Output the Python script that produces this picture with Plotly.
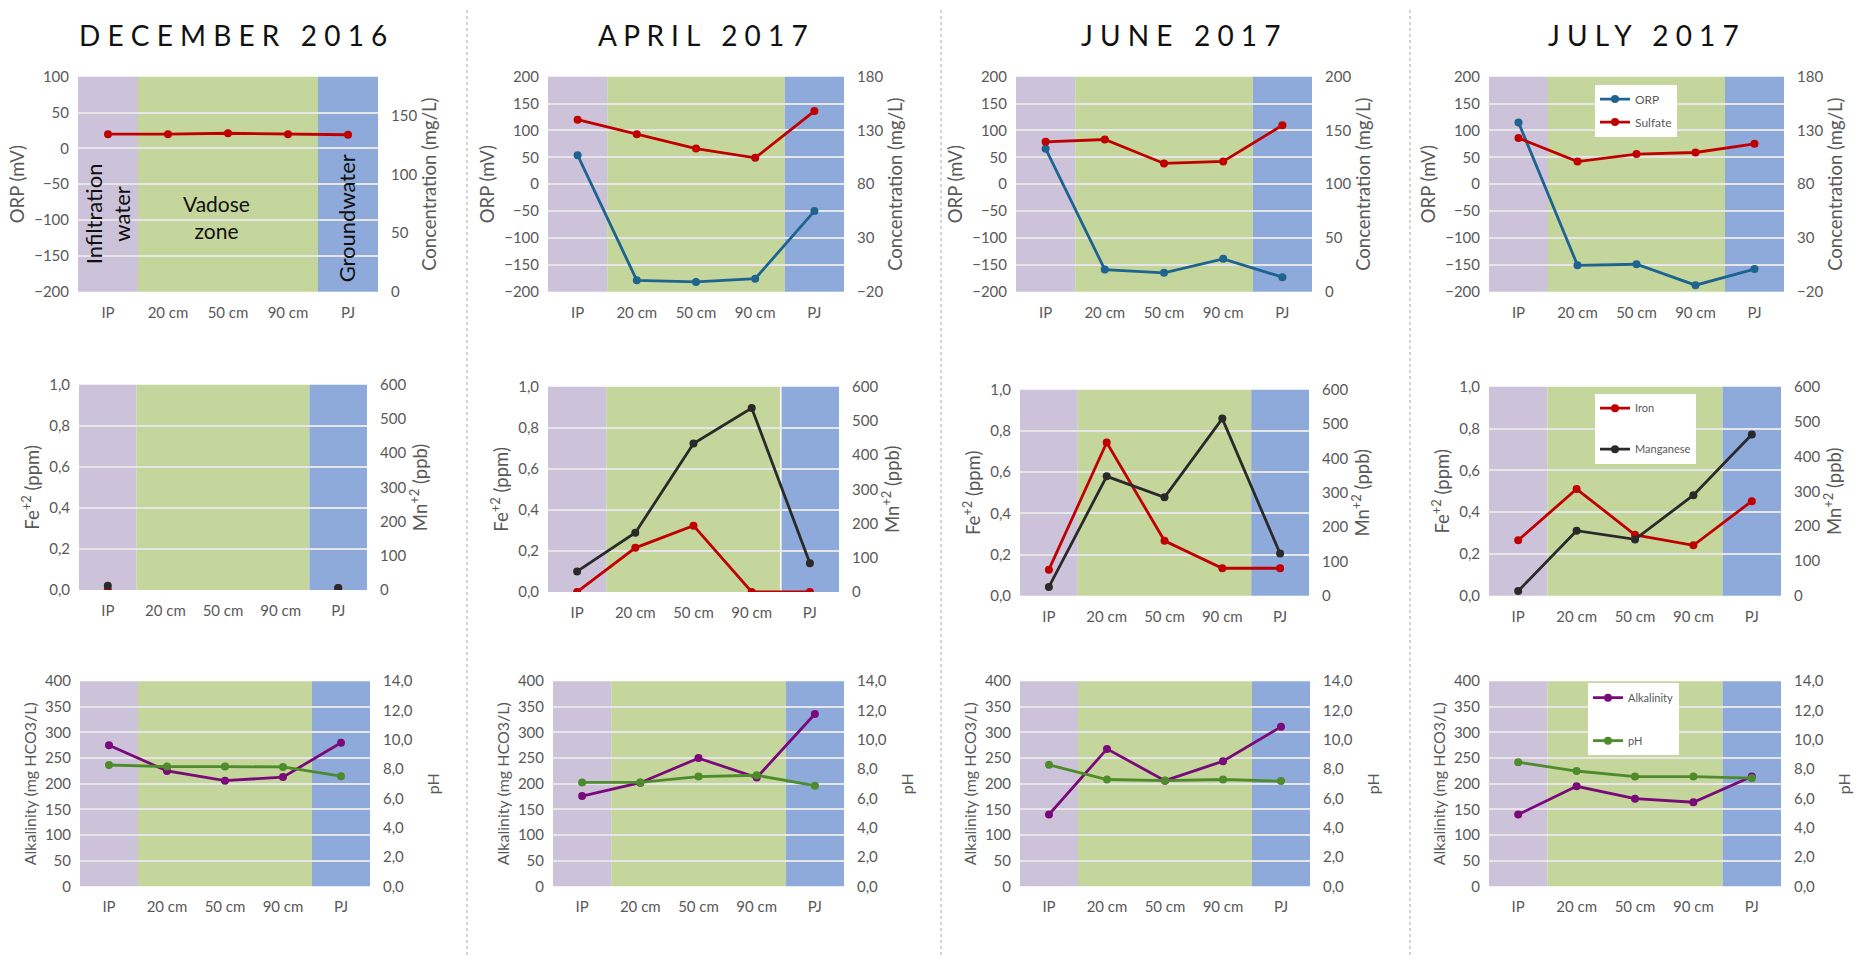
import plotly.graph_objects as go

# ---------------- data ----------------
categories = ["IP", "20 cm", "50 cm", "90 cm", "PJ"]
month_titles = ["DECEMBER 2016", "APRIL 2017", "JUNE 2017", "JULY 2017"]

# Row 1: ORP (mV, left axis) and Sulfate (mg/L, right axis)
orp_apr = [54, -179, -182, -176, -50]
orp_jun = [66, -159, -165, -139, -173]
orp_jul = [115, -151, -149, -188, -158]
sulfate_dec = [134.3, 134.3, 135.1, 134.3, 133.8]
sulfate_apr = [140, 126.4, 113.1, 104.5, 148]
sulfate_jun = [139.4, 141.6, 119.3, 121.2, 154.9]
sulfate_jul = [123, 101, 108, 109.5, 117.6]

# Row 2: Iron Fe+2 (ppm, left) and Manganese Mn+2 (ppb, right)
iron_dec = [0.0, None, None, None, 0.01]
iron_apr = [0.0, 0.215, 0.323, 0.0, 0.0]
iron_jun = [0.127, 0.744, 0.267, 0.134, 0.134]
iron_jul = [0.266, 0.511, 0.292, 0.242, 0.453]
mn_dec = [12, None, None, None, 6]
mn_apr = [60, 173, 434, 538, 84]
mn_jun = [26, 348, 287, 516, 123]
mn_jul = [14, 187, 162, 289, 463]

# Row 3: Alkalinity (mg HCO3/L, left) and pH (right)
alk_dec = [275, 225, 206, 213, 280]
alk_apr = [176, 202, 250, 212, 336]
alk_jun = [140, 268, 206, 244, 311]
alk_jul = [140, 195, 171, 164, 214]
ph_dec = [8.28, 8.17, 8.17, 8.15, 7.52]
ph_apr = [7.09, 7.09, 7.49, 7.58, 6.87]
ph_jun = [8.29, 7.29, 7.22, 7.29, 7.18]
ph_jul = [8.47, 7.87, 7.49, 7.49, 7.38]

zone_labels = ["Infiltration<br>water", "Vadose<br>zone", "Groundwater"]

# ---------------- layout constants ----------------
W, H = 1868, 963
FONT = "Lato, 'Open Sans', sans-serif"
GRAY = "#595959"
C_PURPLE_BAND = "#CCC3DA"
C_GREEN_BAND = "#C4D69B"
C_BLUE_BAND = "#8EAADB"
C_ORP = "#1F6391"
C_RED = "#C00000"
C_MN = "#2A2A2A"
C_ALK = "#7A0A7A"
C_PH = "#4E8B2C"

COL_X = [[(78, 378), (548, 844), (1016, 1312), (1489, 1784)],
         [(79, 367), (548, 839), (1020, 1309), (1489, 1781)],
         [(80, 370), (553, 844), (1020, 1310), (1489, 1781)]]
ROW_Y = [[(68, 287)] * 4,
         [(382, 591), (384, 593), (387, 597), (384, 597)],
         [(684, 893)] * 4]

left_ranges = [[[-200, 100], [-200, 200], [-200, 200], [-200, 200]],
               [[0, 1]] * 4,
               [[0, 400]] * 4]
right_ranges = [[[0, 183.3], [-20, 180], [0, 200], [-20, 180]],
                [[0, 600]] * 4,
                [[0, 14]] * 4]
left_dtick = [50, 0.2, 50]
right_dtick = [50, 100, 2]
left_fmt = ["", ".1f", ""]
right_fmt = ["", "", ".1f"]
left_titles = ["ORP (mV)", "Fe<sup>+2</sup> (ppm)", "Alkalinity (mg HCO3/L)"]
right_titles = ["Concentration (mg/L)", "Mn<sup>+2</sup> (ppb)", "pH"]
title_sizes = [18.5, 18.5, 16]
right_standoff = [6, 8, 16]

row_series = [
    ("ORP", [None, orp_apr, orp_jun, orp_jul], C_ORP,
     "Sulfate", [sulfate_dec, sulfate_apr, sulfate_jun, sulfate_jul], C_RED, "legend"),
    ("Iron", [iron_dec, iron_apr, iron_jun, iron_jul], C_RED,
     "Manganese", [mn_dec, mn_apr, mn_jun, mn_jul], C_MN, "legend2"),
    ("Alkalinity", [alk_dec, alk_apr, alk_jun, alk_jul], C_ALK,
     "pH", [ph_dec, ph_apr, ph_jun, ph_jul], C_PH, "legend3"),
]

fig = go.Figure()
layout = {}
shapes = []
annotations = []

tickfont = dict(family=FONT, size=15, color=GRAY)


def axkey(kind, i):
    return f"{kind}axis" if i == 1 else f"{kind}axis{i}"


def axref(kind, i):
    return kind if i == 1 else f"{kind}{i}"


for r in range(3):
    titlefont = dict(family=FONT, size=title_sizes[r], color=GRAY)
    for c in range(4):
        n = r * 4 + c + 1
        yl, yr = 2 * n - 1, 2 * n
        xr_, ylr, yrr = axref("x", n), axref("y", yl), axref("y", yr)
        (x0, x1) = COL_X[r][c]
        (ya, yb) = ROW_Y[r][c]
        xdom = [x0 / W, x1 / W]
        ydom = [1 - yb / H, 1 - ya / H]

        layout[axkey("x", n)] = dict(
            domain=xdom, anchor=ylr, type="category", range=[-0.5, 4.5],
            showgrid=False, zeroline=False, showline=False, ticks="",
            tickfont=tickfont, ticklabelstandoff=10, fixedrange=True)
        layout[axkey("y", yl)] = dict(
            domain=ydom, anchor=xr_, range=left_ranges[r][c], dtick=left_dtick[r],
            tick0=left_ranges[r][c][0], tickformat=left_fmt[r],
            showgrid=True, gridcolor="#E6E6E6", gridwidth=1.5, zeroline=False,
            showline=False, ticks="", tickfont=tickfont, ticklabelstandoff=8,
            title=dict(text=left_titles[r], font=titlefont, standoff=4))
        layout[axkey("y", yr)] = dict(
            overlaying=ylr, anchor=xr_, side="right", range=right_ranges[r][c],
            dtick=right_dtick[r], tick0=right_ranges[r][c][0], tickformat=right_fmt[r],
            showgrid=False, zeroline=False, showline=False, ticks="",
            tickfont=tickfont, ticklabelstandoff=12,
            title=dict(text=right_titles[r], font=titlefont, standoff=right_standoff[r]))

        for (b0, b1, col) in [(-0.5, 0.5, C_PURPLE_BAND), (0.5, 3.5, C_GREEN_BAND),
                              (3.5, 4.5, C_BLUE_BAND)]:
            shapes.append(dict(type="rect", xref=xr_, yref=f"{ylr} domain",
                               x0=b0, x1=b1, y0=0, y1=1, fillcolor=col,
                               line=dict(width=0), layer="below"))

        lname, lvals, lcol, rname, rvals, rcol, leg = row_series[r]
        if lvals[c] is not None:
            fig.add_trace(go.Scatter(
                x=categories, y=lvals[c], xaxis=xr_, yaxis=ylr, name=lname,
                mode="lines+markers", line=dict(color=lcol, width=2.8),
                marker=dict(color=lcol, size=8), legend=leg, legendgroup=lname,
                showlegend=(c == 3), connectgaps=False))
        fig.add_trace(go.Scatter(
            x=categories, y=rvals[c], xaxis=xr_, yaxis=yrr, name=rname,
            mode="lines+markers", line=dict(color=rcol, width=2.8),
            marker=dict(color=rcol, size=8), legend=leg, legendgroup=rname,
            showlegend=(c == 3), connectgaps=False))

# white divider seen in April iron panel
shapes.append(dict(type="line", xref="x6", yref="y11 domain", x0=3.5, x1=3.5,
                   y0=0, y1=1, line=dict(color="white", width=1.5), layer="below"))

# column separators
for sx in [467, 941, 1410]:
    shapes.append(dict(type="line", xref="paper", yref="paper", x0=sx / W, x1=sx / W,
                       y0=0, y1=1, line=dict(color="#A6A6A6", width=1, dash="dot")))

# month titles
title_cx = [233, 703, 1180, 1643]
for t, cx in zip(month_titles, title_cx):
    words = t.split(" ")
    spaced = "   ".join(" ".join(list(w)) for w in words)
    annotations.append(dict(text=spaced, x=cx / W, y=1 - 25 / H, xref="paper", yref="paper",
                            showarrow=False, xanchor="center", yanchor="middle",
                            font=dict(family=FONT, size=28, color="#111111")))

# zone labels in December ORP panel
zfont = dict(family=FONT, size=22, color="#111111")
annotations.append(dict(text=zone_labels[0], x=0.0, y=-92, xref="x", yref="y",
                        showarrow=False, textangle=-90, font=zfont))
annotations.append(dict(text=zone_labels[1], x=1.8, y=-96, xref="x", yref="y",
                        showarrow=False, font=dict(family=FONT, size=21, color="#111111")))
annotations.append(dict(text=zone_labels[2], x=3.98, y=-98, xref="x", yref="y",
                        showarrow=False, textangle=-90, font=zfont))

legfont = dict(family=FONT, size=11, color=GRAY)
layout["legend"] = dict(x=1595 / W, y=1 - 76 / H, xanchor="left", yanchor="top",
                        bgcolor="white", font=dict(family=FONT, size=12, color=GRAY),
                        tracegroupgap=4, itemwidth=30)
layout["legend2"] = dict(x=1595 / W, y=1 - 391 / H, xanchor="left", yanchor="top",
                         bgcolor="white", font=legfont, tracegroupgap=22, itemwidth=30)
layout["legend3"] = dict(x=1588 / W, y=1 - 686 / H, xanchor="left", yanchor="top",
                         bgcolor="white", font=legfont, tracegroupgap=24, itemwidth=30)

fig.update_layout(
    width=W, height=H, margin=dict(l=0, r=0, t=0, b=0),
    paper_bgcolor="white", plot_bgcolor="white",
    separators=",.", font=dict(family=FONT, color=GRAY),
    shapes=shapes, annotations=annotations, hovermode=False,
    **layout)

fig.write_html("out.html", post_script="document.body.style.margin='0';")
